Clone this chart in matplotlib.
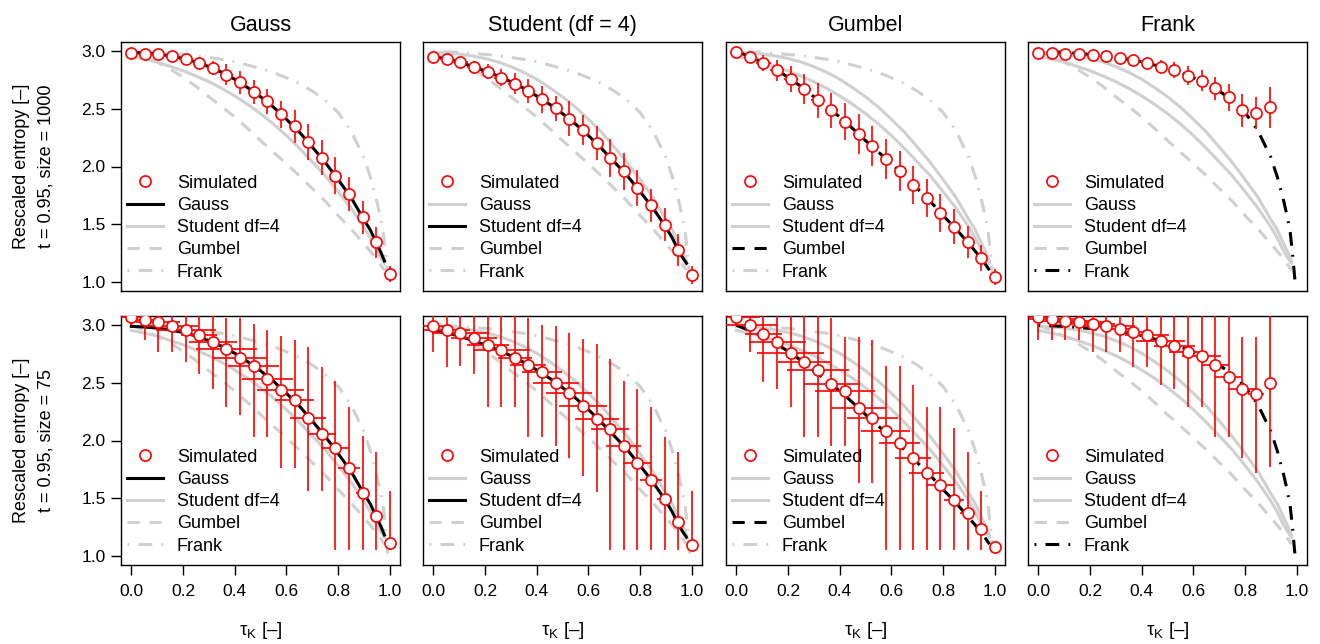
import numpy as np
import matplotlib
matplotlib.use("Agg")
import matplotlib.pyplot as plt
from matplotlib.lines import Line2D

plt.rcParams['font.family'] = ['Liberation Sans', 'DejaVu Sans']
plt.rcParams['mathtext.fontset'] = 'custom'
plt.rcParams['mathtext.rm'] = 'Liberation Sans'
plt.rcParams['mathtext.it'] = 'Liberation Sans:italic'

# ---------------------------------------------------------------- data
copulas = ["Gauss", "Student df=4", "Gumbel", "Frank"]
titles = ["Gauss", "Student (df = 4)", "Gumbel", "Frank"]
row_labels = ["t = 0.95, size = 1000", "t = 0.95, size = 75"]

# theoretical rescaled entropy as a function of Kendall's tau
curve_tau = [0.0, 0.05, 0.10, 0.15, 0.20, 0.25, 0.30, 0.35, 0.40, 0.45, 0.50,
             0.55, 0.60, 0.65, 0.70, 0.75, 0.80, 0.85, 0.90, 0.925, 0.95, 0.965, 0.98]
gauss_curve = [2.99, 2.985, 2.975, 2.96, 2.937, 2.907, 2.866, 2.817, 2.757, 2.684, 2.605,
               2.515, 2.41, 2.30, 2.17, 2.037, 1.888, 1.733, 1.54, 1.45, 1.33, 1.26, 1.18]
student_curve = [2.955, 2.932, 2.908, 2.868, 2.831, 2.785, 2.736, 2.678, 2.612, 2.54, 2.459,
                 2.369, 2.269, 2.159, 2.041, 1.922, 1.783, 1.64, 1.475, 1.38, 1.265, 1.21, 1.16]
gumbel_curve = [3.0, 2.955, 2.905, 2.845, 2.775, 2.695, 2.605, 2.52, 2.43, 2.33, 2.225,
                2.125, 2.025, 1.92, 1.81, 1.70, 1.575, 1.46, 1.33, 1.265, 1.195, 1.15, 1.10]
frank_tau = [0.0, 0.05, 0.10, 0.15, 0.20, 0.25, 0.30, 0.35, 0.40, 0.45, 0.50, 0.55,
             0.60, 0.65, 0.70, 0.75, 0.80, 0.85, 0.90, 0.925, 0.95, 0.965, 0.975, 0.985, 0.993]
frank_curve = [3.0, 2.995, 2.99, 2.982, 2.972, 2.962, 2.946, 2.93, 2.91, 2.88, 2.85, 2.815,
               2.77, 2.72, 2.655, 2.575, 2.47, 2.31, 2.08, 1.91, 1.70, 1.55, 1.43, 1.22, 1.02]

# Kendall's tau of the simulation settings
tau_sim = [0.0, 0.053, 0.105, 0.158, 0.211, 0.263, 0.316, 0.368, 0.421, 0.474,
           0.526, 0.579, 0.632, 0.684, 0.737, 0.789, 0.842, 0.895, 0.947, 1.0]

# ---- size = 1000: mean and symmetric spread
sim_gauss_1000 = [2.985, 2.980, 2.974, 2.957, 2.931, 2.899, 2.851, 2.798, 2.729, 2.645,
                  2.565, 2.452, 2.348, 2.212, 2.076, 1.920, 1.762, 1.560, 1.343, 1.069]
yerr_gauss_1000 = [0.01, 0.015, 0.025, 0.03, 0.036, 0.048, 0.06, 0.087, 0.10, 0.107,
                   0.108, 0.12, 0.144, 0.159, 0.15, 0.159, 0.15, 0.144, 0.136, 0.072]
xerr_gauss_1000 = [0.02, 0.022, 0.024, 0.025, 0.026, 0.026, 0.025, 0.025, 0.024, 0.024,
                   0.022, 0.02, 0.018, 0.016, 0.014, 0.012, 0.01, 0.008, 0.006, 0.003]

sim_student_1000 = [2.954, 2.931, 2.905, 2.861, 2.824, 2.772, 2.720, 2.656, 2.582, 2.504,
                    2.414, 2.313, 2.203, 2.076, 1.958, 1.814, 1.664, 1.494, 1.277, 1.061]
yerr_student_1000 = [0.01, 0.023, 0.043, 0.058, 0.063, 0.072, 0.087, 0.107, 0.115, 0.11,
                     0.15, 0.13, 0.15, 0.165, 0.159, 0.159, 0.144, 0.144, 0.136, 0.078]
xerr_student_1000 = [0.022, 0.026, 0.028, 0.028, 0.028, 0.027, 0.026, 0.026, 0.025, 0.024,
                     0.022, 0.02, 0.018, 0.016, 0.014, 0.012, 0.01, 0.008, 0.006, 0.003]

sim_gumbel_1000 = [2.989, 2.951, 2.899, 2.833, 2.758, 2.671, 2.573, 2.487, 2.388, 2.279,
                   2.175, 2.068, 1.958, 1.842, 1.727, 1.600, 1.479, 1.343, 1.205, 1.041]
yerr_gumbel_1000 = [0.01, 0.043, 0.072, 0.092, 0.115, 0.13, 0.15, 0.15, 0.159, 0.173,
                    0.173, 0.173, 0.173, 0.165, 0.165, 0.165, 0.15, 0.139, 0.11, 0.072]
xerr_gumbel_1000 = [0.02, 0.025, 0.028, 0.028, 0.028, 0.026, 0.026, 0.025, 0.025, 0.024,
                    0.022, 0.02, 0.018, 0.016, 0.014, 0.012, 0.01, 0.008, 0.006, 0.003]

sim_frank_1000 = [2.986, 2.986, 2.980, 2.977, 2.968, 2.960, 2.942, 2.922, 2.899,
                  2.867, 2.838, 2.789, 2.746, 2.677, 2.599, 2.486, 2.463, 2.512]
yerr_frank_1000 = [0.005, 0.005, 0.008, 0.01, 0.012, 0.015, 0.023, 0.043, 0.052,
                   0.058, 0.072, 0.08, 0.092, 0.10, 0.12, 0.14, 0.14, 0.18]
xerr_frank_1000 = [0.02, 0.02, 0.02, 0.02, 0.02, 0.02, 0.02, 0.02, 0.02,
                   0.02, 0.02, 0.02, 0.018, 0.02, 0.016, 0.014, 0.012, 0.01]

# ---- size = 75: mean with lower / upper spread
sim_gauss_75 = [3.07, 3.049, 3.026, 2.994, 2.957, 2.911, 2.853, 2.795, 2.720, 2.642,
                2.535, 2.437, 2.354, 2.192, 2.059, 1.938, 1.759, 1.548, 1.346, 1.107]
lo_gauss_75 = [3.0, 2.876, 2.769, 2.769, 2.68, 2.58, 2.45, 2.29, 2.22, 2.03,
               2.03, 1.76, 1.76, 1.56, 1.56, 1.05, 1.05, 1.05, 1.05, 1.05]
hi_gauss_75 = [3.08, 3.08, 3.08, 3.08, 3.08, 3.08, 3.08, 3.06, 3.06, 3.01,
               2.96, 2.91, 2.87, 2.81, 2.64, 2.52, 2.29, 2.04, 1.90, 1.56]
xerr_gauss_75 = [0.05, 0.07, 0.085, 0.10, 0.117, 0.07, 0.094, 0.117, 0.104, 0.098,
                 0.098, 0.091, 0.075, 0.068, 0.055, 0.055, 0.042, 0.026, 0.012, 0.005]

sim_student_75 = [2.994, 2.962, 2.934, 2.887, 2.830, 2.784, 2.714, 2.654, 2.590, 2.501,
                  2.411, 2.299, 2.189, 2.097, 1.955, 1.808, 1.661, 1.496, 1.297, 1.095]
lo_student_75 = [2.77, 2.64, 2.65, 2.58, 2.29, 2.29, 2.29, 2.03, 2.03, 1.95,
                 1.85, 1.69, 1.55, 1.05, 1.05, 1.05, 1.05, 1.05, 1.05, 1.05]
hi_student_75 = [3.08, 3.08, 3.08, 3.08, 3.08, 3.08, 3.08, 3.06, 3.0, 2.99,
                 2.93, 2.88, 2.84, 2.71, 2.52, 2.45, 2.29, 2.03, 1.90, 1.56]
xerr_student_75 = [0.05, 0.09, 0.11, 0.09, 0.08, 0.11, 0.065, 0.07, 0.078, 0.088,
                   0.09, 0.094, 0.085, 0.075, 0.068, 0.055, 0.042, 0.029, 0.015, 0.005]

sim_gumbel_75 = [3.072, 3.006, 2.928, 2.853, 2.763, 2.680, 2.608, 2.486, 2.426, 2.284,
                 2.192, 2.085, 1.975, 1.846, 1.716, 1.612, 1.485, 1.367, 1.231, 1.078]
lo_gumbel_75 = [3.0, 2.77, 2.51, 2.45, 2.29, 2.03, 2.03, 1.95, 1.95, 1.63,
                1.63, 1.05, 1.05, 1.05, 1.05, 1.05, 1.05, 1.05, 1.05, 1.05]
hi_gumbel_75 = [3.08, 3.08, 3.08, 3.08, 3.08, 3.08, 3.08, 3.06, 2.90, 2.90,
                2.87, 2.65, 2.65, 2.48, 2.29, 2.29, 2.11, 1.90, 1.56, 1.11]
xerr_gumbel_75 = [0.09, 0.11, 0.07, 0.11, 0.13, 0.10, 0.12, 0.11, 0.115, 0.107,
                  0.098, 0.095, 0.08, 0.07, 0.068, 0.055, 0.039, 0.029, 0.015, 0.005]

sim_frank_75 = [3.072, 3.052, 3.037, 3.032, 3.009, 2.991, 2.971, 2.939, 2.911,
                2.861, 2.824, 2.766, 2.729, 2.659, 2.553, 2.443, 2.400, 2.501]
lo_frank_75 = [2.876, 2.876, 2.876, 2.876, 2.77, 2.77, 2.77, 2.64, 2.64,
               2.48, 2.45, 2.29, 2.29, 2.03, 2.03, 1.85, 1.72, 1.77]
hi_frank_75 = [3.08, 3.08, 3.08, 3.08, 3.08, 3.08, 3.08, 3.08, 3.08,
               3.08, 3.08, 3.08, 3.08, 3.08, 3.08, 2.90, 2.90, 3.08]
xerr_frank_75 = [0.05, 0.09, 0.09, 0.095, 0.085, 0.11, 0.065, 0.055, 0.085,
                 0.095, 0.08, 0.075, 0.075, 0.055, 0.052, 0.052, 0.03, 0.016]

y_ticks = [1.0, 1.5, 2.0, 2.5, 3.0]
x_ticks = [0.0, 0.2, 0.4, 0.6, 0.8, 1.0]

# ---------------------------------------------------------------- style
RED = "#ff0000"
GREY = "#d0d0d0"
LW = 2.2
styles = {
    "Gauss": dict(linestyle="-"),
    "Student df=4": dict(linestyle="-"),
    "Gumbel": dict(linestyle=(0, (4.0, 3.2))),
    "Frank": dict(linestyle=(0, (0.6, 3.0, 4.5, 3.0))),
}
curves = {
    "Gauss": (curve_tau, gauss_curve),
    "Student df=4": (curve_tau, student_curve),
    "Gumbel": (curve_tau, gumbel_curve),
    "Frank": (frank_tau, frank_curve),
}

rows = [
    [  # size = 1000
        (sim_gauss_1000, yerr_gauss_1000, None, xerr_gauss_1000),
        (sim_student_1000, yerr_student_1000, None, xerr_student_1000),
        (sim_gumbel_1000, yerr_gumbel_1000, None, xerr_gumbel_1000),
        (sim_frank_1000, yerr_frank_1000, None, xerr_frank_1000),
    ],
    [  # size = 75
        (sim_gauss_75, lo_gauss_75, hi_gauss_75, xerr_gauss_75),
        (sim_student_75, lo_student_75, hi_student_75, xerr_student_75),
        (sim_gumbel_75, lo_gumbel_75, hi_gumbel_75, xerr_gumbel_75),
        (sim_frank_75, lo_frank_75, hi_frank_75, xerr_frank_75),
    ],
]

W, H = 1320, 644
fig = plt.figure(figsize=(W / 100, H / 100), dpi=100)

col_left = [121, 423, 726, 1028]
row_top = [42, 316]
pw, ph = 279, 249

for r in range(2):
    for c in range(4):
        ax = fig.add_axes([col_left[c] / W, 1 - (row_top[r] + ph) / H, pw / W, ph / H])
        own = copulas[c]

        # reference curves: other copulas in grey, own copula in black
        for name in copulas:
            tx, ty = curves[name]
            if name != own:
                ax.plot(tx, ty, color=GREY, lw=LW, zorder=1, **styles[name])
        tx, ty = curves[own]
        ax.plot(tx, ty, color="black", lw=LW, zorder=2, **styles[own])

        y, a, b, xe = rows[r][c]
        n = len(y)
        xs = tau_sim[:n]
        if b is None:
            yerr = a
        else:
            yerr = [np.array(y) - np.array(a), np.array(b) - np.array(y)]
        ax.errorbar(xs, y, yerr=yerr, xerr=xe, fmt="none", ecolor=RED,
                    elinewidth=1.2, capsize=0, zorder=3)
        ax.plot(xs, y, "o", ms=8, mfc="white", mec=RED, mew=1.2, zorder=4)

        ax.set_xlim(-0.04, 1.04)
        ax.set_ylim(0.92, 3.08)
        for s in ax.spines.values():
            s.set_linewidth(1.0)
        ax.tick_params(direction="out", length=7, width=1.0, labelsize=12.5, pad=4)
        if c == 0:
            ax.set_yticks(y_ticks)
            ax.set_yticklabels([f"{v:.1f}" for v in y_ticks])
        else:
            ax.set_yticks([])
        if r == 1:
            ax.set_xticks(x_ticks)
            ax.set_xticklabels([f"{v:.1f}" for v in x_ticks])
            ax.tick_params(axis="x", pad=7)
            ax.set_xlabel(r"$\mathrm{\tau_K}$ [–]", fontsize=13.5, labelpad=15)
        else:
            ax.set_xticks([])
            ax.set_title(titles[c], fontsize=15.5, pad=8)

        handles = [Line2D([], [], ls="none", marker="o", ms=8, mfc="white",
                          mec=RED, mew=1.2)]
        for name in copulas:
            col = "black" if name == own else GREY
            handles.append(Line2D([], [], color=col, lw=LW, **styles[name]))
        ax.legend(handles, ["Simulated"] + copulas, loc="lower left",
                  bbox_to_anchor=(0.0, 0.016), frameon=False, fontsize=13,
                  handlelength=2.0, handletextpad=0.75, labelspacing=0.29,
                  borderpad=0.35, borderaxespad=0.0)

    yc = 1 - (row_top[r] + ph / 2) / H
    fig.text(22 / W, yc, "Rescaled entropy [–]", rotation=90, ha="center",
             va="center", fontsize=13)
    fig.text(46 / W, yc, row_labels[r], rotation=90, ha="center",
             va="center", fontsize=13)

fig.savefig("out.png", dpi=100)
